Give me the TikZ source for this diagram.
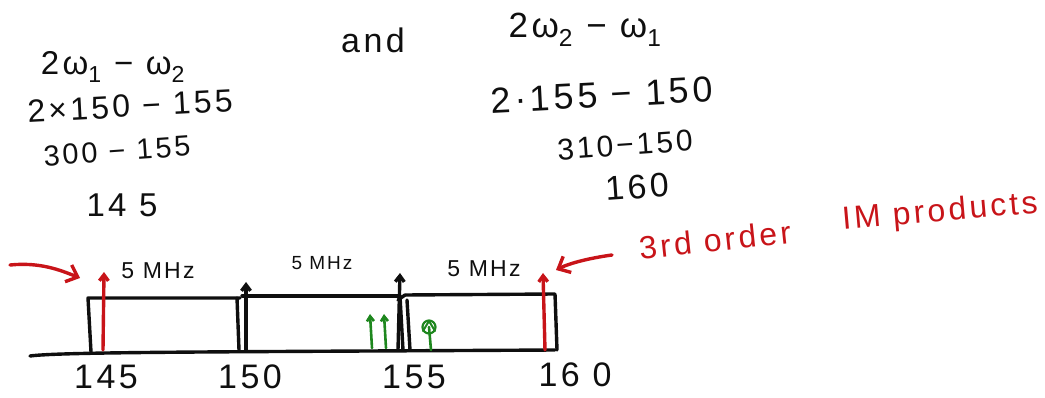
\documentclass[tikz,border=0pt]{standalone}
\usepackage{fontspec}
\setmainfont{Liberation Sans}
\newfontfamily\wide[LetterSpace=10]{Liberation Sans}
\usetikzlibrary{arrows.meta}
\definecolor{ink}{RGB}{15,15,15}
\definecolor{redink}{RGB}{200,20,25}
\definecolor{greenink}{RGB}{30,135,30}
\begin{document}
\begin{tikzpicture}[x=1pt,y=-1pt, line width=3.4pt, line cap=round, line join=round,
  hw/.style={font=\wide\fontsize{#1}{#1}\selectfont, inner sep=0pt, text=ink},
  redtext/.style={font=\wide\fontsize{32}{34}\selectfont, inner sep=0pt, text=redink},
  box/.style={draw=ink},
  sig/.style={draw=ink, -{Straight Barb[length=6pt,width=9pt]}},
  redsig/.style={draw=redink, -{Straight Barb[length=6pt,width=9pt]}},
  greensig/.style={draw=greenink, line width=2.6pt, -{Straight Barb[length=5pt,width=7pt]}},
  pointer/.style={draw=redink, -{Straight Barb[length=10pt,width=18pt]}}
]
\useasboundingbox (0,0) rectangle (1045,398);

% --- left calculation
\node[hw=33] (l1) at (113,67) {2ω\textsubscript{1} − ω\textsubscript{2}};
\node[hw=32, rotate=3] (l2) at (130,106) {2×150 − 155};
\node[hw=29, rotate=4] (l3) at (117,151) {300 − 155};
\node[hw=33] (l4) at (122,205) {14 5};
\node[hw=34] (and) at (373,40) {and};
% --- right calculation
\node[hw=35] (r1) at (585,30) {2ω\textsubscript{2} − ω\textsubscript{1}};
\node[hw=36, rotate=3] (r2) at (602,95) {2·155 − 150};
\node[hw=30, rotate=4] (r3) at (625,145) {310−150};
\node[hw=34, rotate=4] (r4) at (637,187) {160};
\node[redtext, rotate=6] (im1) at (715,240) {3rd order};
\node[redtext, rotate=5] (im2) at (940,213) {IM products};

% --- axis
\coordinate (axL) at (30,356);
\coordinate (axR) at (555,350);
\draw[ink] (axL) .. controls (60,352) and (200,352) .. (axR);

% --- boxes
\draw[box] (91,352) -- (88,298) -- (240,298);
\draw[box] (242,296) -- (400,296);
\draw[box] (405,295) -- (555,294) -- (557,350);
\draw[box] (237,298) -- (239,350);
\draw[box] (400,296) -- (403,350);
\draw[box] (398,300) -- (405,295);
\draw[box] (407,300) -- (410,350);

% --- tick positions
\coordinate (f145) at (103,350);
\coordinate (f150) at (246,350);
\coordinate (f155) at (398,350);
\coordinate (f160) at (545,350);
\coordinate (t145) at (104,272);
\coordinate (t150) at (246,282);
\coordinate (t155) at (400,273);
\coordinate (t160) at (543,273);

\draw[redsig] (f145) -- (t145);
\draw[sig] (f150) -- (t150);
\draw[sig] (f155) -- (t155);
\draw[redsig] (f160) -- (t160);

% --- green components
\coordinate (g1b) at (372,348);
\coordinate (g1t) at (370,314);
\coordinate (g2b) at (386,348);
\coordinate (g2t) at (384,314);
\draw[greensig] (g1b) -- (g1t);
\draw[greensig] (g2b) -- (g2t);
\coordinate (g3b) at (431,350);
\coordinate (g3c) at (429,327);
\draw[greenink, line width=2.6pt] (g3b) -- (g3c);
\draw[greenink, line width=2.2pt] (g3c) circle (6.5pt);
\draw[greenink, line width=2pt] (423,331) -- (429,321) -- (435,331);

% --- frequency labels
\node[hw=34] (n145) at (106,377) {145};
\node[hw=34] (n150) at (250,377) {150};
\node[hw=34] (n155) at (414,377) {155};
\node[hw=34] (n160) at (575,375) {16 0};

% --- spacing labels
\node[hw=23] (s1) at (158,271) {5 MHz};
\node[hw=19] (s2) at (322,263) {5 MHz};
\node[hw=23] (s3) at (484,269) {5 MHz};

% --- red pointers
\coordinate (p1s) at (10,265);
\coordinate (p1e) at (80,278);
\draw[pointer] (p1s) .. controls (40,262) and (60,270) .. (p1e);
\coordinate (p2s) at (612,255);
\coordinate (p2e) at (556,270);
\draw[pointer] (p2s) .. controls (590,258) and (570,263) .. (p2e);
\end{tikzpicture}
\end{document}
